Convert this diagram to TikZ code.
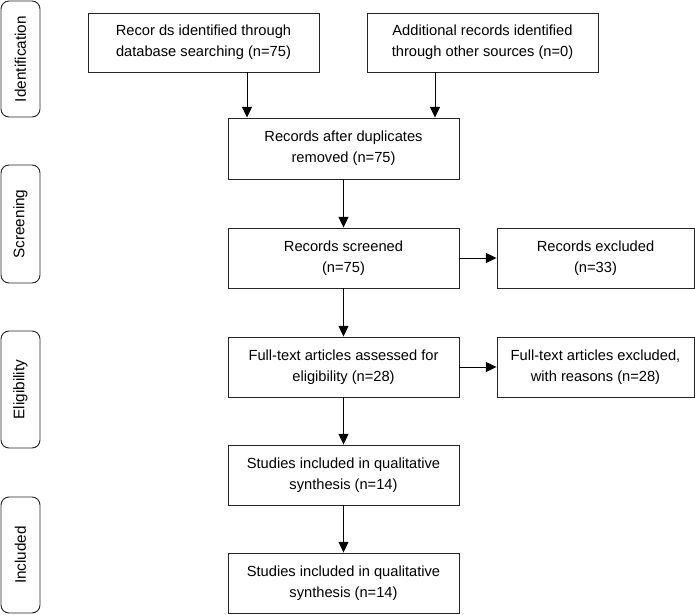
\documentclass[tikz,border=0pt]{standalone}
\usepackage{fontspec}
\setmainfont{Liberation Sans}
\usetikzlibrary{arrows.meta}
\begin{document}
\begin{tikzpicture}[x=0.75pt,y=-0.75pt,
  box/.style={draw=black!85, line width=0.7pt, inner sep=0pt, align=center,
    minimum width=173.25pt, minimum height=45pt, font=\fontsize{11}{15.8}\selectfont},
  phase/.style={draw=black!85, line width=0.7pt, rounded corners=6pt, inner sep=0pt,
    rotate=90, minimum height=29.25pt, font=\fontsize{11.5}{14}\selectfont},
  arr/.style={draw=black, line width=0.75pt, -{Triangle[width=7.5pt,length=8pt]}}
]
\useasboundingbox (0,0) rectangle (695,614);

% phase labels
\node[phase, minimum width=87pt]   (p1) at (20.5,59)   {Identification};
\node[phase, minimum width=88.5pt] (p2) at (20.5,224)  {Screening};
\node[phase, minimum width=87.75pt](p3) at (20.5,389.5){Eligibility};
\node[phase, minimum width=87pt]   (p4) at (20.5,555)  {Included};

% boxes
\node[box, minimum height=44.25pt] (b1) at (203.5,42.5)
  {Recor ds identified through\\database searching (n=75)};
\node[box, minimum height=44.25pt] (b2) at (482.5,42.5)
  {Additional records identified\\through other sources (n=0)};
\node[box, minimum height=45.75pt] (b3) at (343.5,148.5)
  {Records after duplicates\\removed (n=75)};
\node[box] (b4) at (343.5,258) {Records screened\\(n=75)};
\node[box, minimum width=147.75pt] (b5) at (595.5,258) {Records excluded\\(n=33)};
\node[box] (b6) at (343.5,367) {Full-text articles assessed for\\eligibility (n=28)};
\node[box, minimum width=147.75pt] (b7) at (595.5,367) {Full-text articles excluded,\\with reasons (n=28)};
\node[box] (b8) at (343.5,475) {Studies included in qualitative\\synthesis (n=14)};
\node[box] (b9) at (343.5,583) {Studies included in qualitative\\synthesis (n=14)};

% connectors
\coordinate (x1) at (247,0);
\coordinate (x2) at (435,0);
\draw[arr] (b1.south -| x1) -- (b3.north -| x1);
\draw[arr] (b2.south -| x2) -- (b3.north -| x2);
\draw[arr] (b3) -- (b4);
\draw[arr] (b4) -- (b5);
\draw[arr] (b4) -- (b6);
\draw[arr] (b6) -- (b7);
\draw[arr] (b6) -- (b8);
\draw[arr] (b8) -- (b9);
\end{tikzpicture}
\end{document}
